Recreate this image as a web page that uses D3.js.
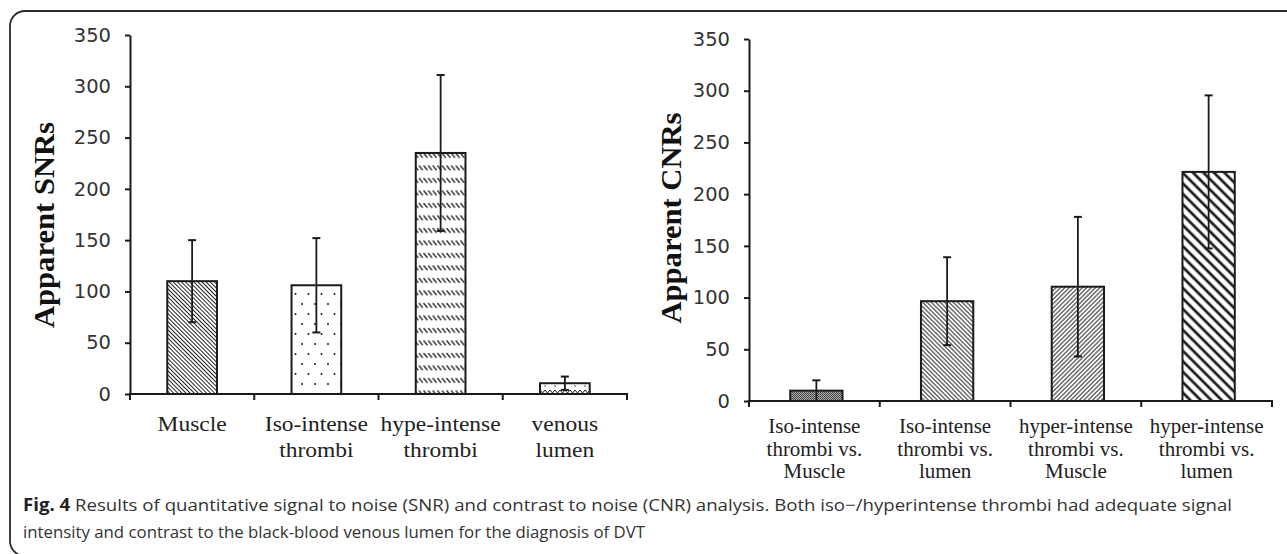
<!DOCTYPE html>
<html>
<head>
<meta charset="utf-8">
<script src="https://cdn.jsdelivr.net/npm/d3@7"></script>
<style>
  body { margin: 0; background: #fff; }
  svg { display: block; }
</style>
</head>
<body>
<div id="chart"></div>
<script>
// data
var snrLabels = [['Muscle'], ['Iso-intense', 'thrombi'], ['hype-intense', 'thrombi'], ['venous', 'lumen']];
var snrMeans = [110, 106, 235, 10.5];
var snrErrors = [40, 46, 76, 6.5];

var cnrLabels = [
  ['Iso-intense', 'thrombi vs.', 'Muscle'],
  ['Iso-intense', 'thrombi vs.', 'lumen'],
  ['hyper-intense', 'thrombi vs.', 'Muscle'],
  ['hyper-intense', 'thrombi vs.', 'lumen'],
];
var cnrMeans = [10, 96.5, 110.5, 221.5];
var cnrErrors = [10, 42.5, 67.5, 74];

var yTicks = [0, 50, 100, 150, 200, 250, 300, 350];

var captionBold = 'Fig. 4';
var captionLine1 = ' Results of quantitative signal to noise (SNR) and contrast to noise (CNR) analysis. Both iso\u2212/hyperintense thrombi had adequate signal';
var captionLine2 = 'intensity and contrast to the black-blood venous lumen for the diagnosis of DVT';

var W = 1287, H = 554;
var ink = '#1a1a1a';

var svg = d3.select('#chart').append('svg').attr('width', W).attr('height', H);
var defs = svg.append('defs');

// hatch: vertical stripes rotated, -45 gives "\" and 45 gives "/"
function linePattern(id, gap, width, angle) {
  var p = defs.append('pattern')
    .attr('id', id)
    .attr('patternUnits', 'userSpaceOnUse')
    .attr('width', gap).attr('height', gap)
    .attr('patternTransform', `rotate(${angle})`);
  p.append('rect').attr('width', gap).attr('height', gap).attr('fill', '#fff');
  p.append('rect')
    .attr('x', (gap - width) / 2).attr('y', 0)
    .attr('width', width).attr('height', gap)
    .attr('fill', ink);
}
linePattern('backDense', 2.9, 0.95, -45);
linePattern('fwdDense', 3.1, 0.95, 45);
linePattern('backDense2', 3.1, 0.95, -45);
linePattern('backWide', 7.4, 2.7, -45);

var dots = defs.append('pattern').attr('id', 'dots')
  .attr('patternUnits', 'userSpaceOnUse').attr('width', 13).attr('height', 20);
dots.append('rect').attr('width', 13).attr('height', 20).attr('fill', '#fff');
dots.append('circle').attr('cx', 3).attr('cy', 4).attr('r', 1).attr('fill', ink);
dots.append('circle').attr('cx', 9.5).attr('cy', 14).attr('r', 1).attr('fill', ink);

var dashes = defs.append('pattern').attr('id', 'dashRows')
  .attr('patternUnits', 'userSpaceOnUse').attr('width', 4.6).attr('height', 12.5);
dashes.append('rect').attr('width', 4.6).attr('height', 12.5).attr('fill', '#fff');
dashes.append('path').attr('d', 'M0.4,3 L4.2,7.8').attr('stroke', ink).attr('stroke-width', 1.3);

var zig = defs.append('pattern').attr('id', 'zigzag')
  .attr('patternUnits', 'userSpaceOnUse').attr('width', 10).attr('height', 9);
zig.append('rect').attr('width', 10).attr('height', 9).attr('fill', '#fff');
zig.append('path').attr('d', 'M0,3 L2.5,6 L5,3 L7.5,6 L10,3').attr('stroke', ink).attr('stroke-width', 1).attr('fill', 'none');
zig.append('circle').attr('cx', 5).attr('cy', 8).attr('r', 0.7).attr('fill', ink);

var grey = defs.append('pattern').attr('id', 'greyCheck')
  .attr('patternUnits', 'userSpaceOnUse').attr('width', 2).attr('height', 2);
grey.append('rect').attr('width', 2).attr('height', 2).attr('fill', '#a8a8a8');
grey.append('rect').attr('width', 1).attr('height', 1).attr('fill', '#444');
grey.append('rect').attr('x', 1).attr('y', 1).attr('width', 1).attr('height', 1).attr('fill', '#555');

// rounded frame
svg.append('rect')
  .attr('x', 10).attr('y', 11)
  .attr('width', 1320).attr('height', 545)
  .attr('rx', 15)
  .attr('fill', 'none').attr('stroke', '#2a2a2a').attr('stroke-width', 1.8);

var renderPanel = function (cfg) {
  var x = d3.scaleBand().domain(d3.range(cfg.means.length)).range([cfg.x0, cfg.x1]).padding(0);
  var y = d3.scaleLinear().domain([0, 350]).range([cfg.y0, cfg.y1]);
  var g = svg.append('g');
  var barW = x.bandwidth() * 0.4;

  // bars
  g.selectAll('.bar')
    .data(cfg.means)
    .enter()
    .append('rect')
    .attr('class', 'bar')
    .attr('x', (d, i) => x(i) + x.bandwidth() / 2 - barW / 2 + cfg.barShift)
    .attr('y', d => y(d))
    .attr('width', barW)
    .attr('height', d => y(0) - y(d))
    .attr('fill', (d, i) => `url(#${cfg.fills[i]})`)
    .attr('stroke', ink)
    .attr('stroke-width', 2);

  // error bars
  cfg.means.forEach(function (m, i) {
    var cx = x(i) + x.bandwidth() / 2 + cfg.barShift;
    var lo = Math.max(0, m - cfg.errors[i]);
    var hi = m + cfg.errors[i];
    g.append('line')
      .attr('x1', cx).attr('x2', cx)
      .attr('y1', y(lo)).attr('y2', y(hi))
      .attr('stroke', ink).attr('stroke-width', 1.8);
    [hi, lo].forEach(function (v) {
      if (v <= 0) return;
      g.append('line')
        .attr('x1', cx - 4).attr('x2', cx + 4)
        .attr('y1', y(v)).attr('y2', y(v))
        .attr('stroke', ink).attr('stroke-width', 2);
    });
  });

  // y axis
  var yAxis = g.append('g')
    .attr('transform', `translate(${cfg.x0},0)`)
    .call(d3.axisLeft(y).tickValues(yTicks).tickSize(5).tickPadding(14).tickSizeOuter(0));
  yAxis.select('.domain').attr('stroke', ink).attr('stroke-width', 2);
  yAxis.selectAll('.tick line').attr('stroke', ink).attr('stroke-width', 2);
  yAxis.selectAll('.tick text')
    .attr('font-family', 'DejaVu Sans')
    .attr('font-size', 19.5)
    .attr('fill', '#333');

  // x axis line and boundary ticks
  g.append('line')
    .attr('x1', cfg.x0 - 1).attr('x2', cfg.x1 + 1)
    .attr('y1', y(0)).attr('y2', y(0))
    .attr('stroke', ink).attr('stroke-width', 2);
  var bounds = d3.range(cfg.means.length).map(i => x(i)).concat([cfg.x1]);
  g.selectAll('.xtick')
    .data(bounds)
    .enter()
    .append('line')
    .attr('class', 'xtick')
    .attr('x1', d => d).attr('x2', d => d)
    .attr('y1', y(0)).attr('y2', y(0) + 6)
    .attr('stroke', ink).attr('stroke-width', 2);

  // category labels
  cfg.labels.forEach(function (lines, i) {
    var cx = x(i) + x.bandwidth() / 2;
    lines.forEach(function (t, j) {
      g.append('text')
        .attr('transform', `translate(${cx},${cfg.labelY + j * cfg.lineH}) scale(${cfg.labelStretch},1)`)
        .attr('text-anchor', 'middle')
        .attr('font-family', 'Liberation Serif, Times New Roman, serif')
        .attr('font-size', cfg.labelSize)
        .attr('fill', '#222')
        .text(t);
    });
  });

  // y title
  g.append('text')
    .attr('transform', `translate(${cfg.titleX},${cfg.titleY}) rotate(-90)`)
    .attr('text-anchor', 'middle')
    .attr('font-family', 'Liberation Serif, Times New Roman, serif')
    .attr('font-weight', 'bold')
    .attr('font-size', 30)
    .attr('textLength', cfg.titleLen)
    .attr('lengthAdjust', 'spacingAndGlyphs')
    .attr('fill', '#111')
    .text(cfg.title);
};

renderPanel({
  means: snrMeans, errors: snrErrors, labels: snrLabels,
  fills: ['backDense', 'dots', 'dashRows', 'zigzag'],
  x0: 130, x1: 627, y0: 394, y1: 35, barShift: 0,
  labelY: 431, lineH: 26, labelSize: 21, labelStretch: 1.12,
  title: 'Apparent SNRs', titleX: 54, titleY: 225, titleLen: 206,
});

renderPanel({
  means: cnrMeans, errors: cnrErrors, labels: cnrLabels,
  fills: ['greyCheck', 'backDense2', 'fwdDense', 'backWide'],
  x0: 749, x1: 1272, y0: 401, y1: 39, barShift: 2,
  labelY: 433, lineH: 22.5, labelSize: 21, labelStretch: 1,
  title: 'Apparent CNRs', titleX: 681, titleY: 218, titleLen: 211,
});

// caption
var cap = svg.append('text')
  .attr('x', 23).attr('y', 511)
  .attr('font-family', 'Open Sans, Noto Sans, sans-serif')
  .attr('font-size', 17)
  .attr('fill', '#333')
  .attr('textLength', 1209)
  .attr('lengthAdjust', 'spacingAndGlyphs');
cap.append('tspan').attr('font-weight', 'bold').attr('fill', '#222').text(captionBold);
cap.append('tspan').text(captionLine1);

svg.append('text')
  .attr('x', 23).attr('y', 538)
  .attr('font-family', 'Open Sans, Noto Sans, sans-serif')
  .attr('font-size', 17)
  .attr('fill', '#333')
  .attr('textLength', 622)
  .attr('lengthAdjust', 'spacingAndGlyphs')
  .text(captionLine2);
</script>
</body>
</html>
